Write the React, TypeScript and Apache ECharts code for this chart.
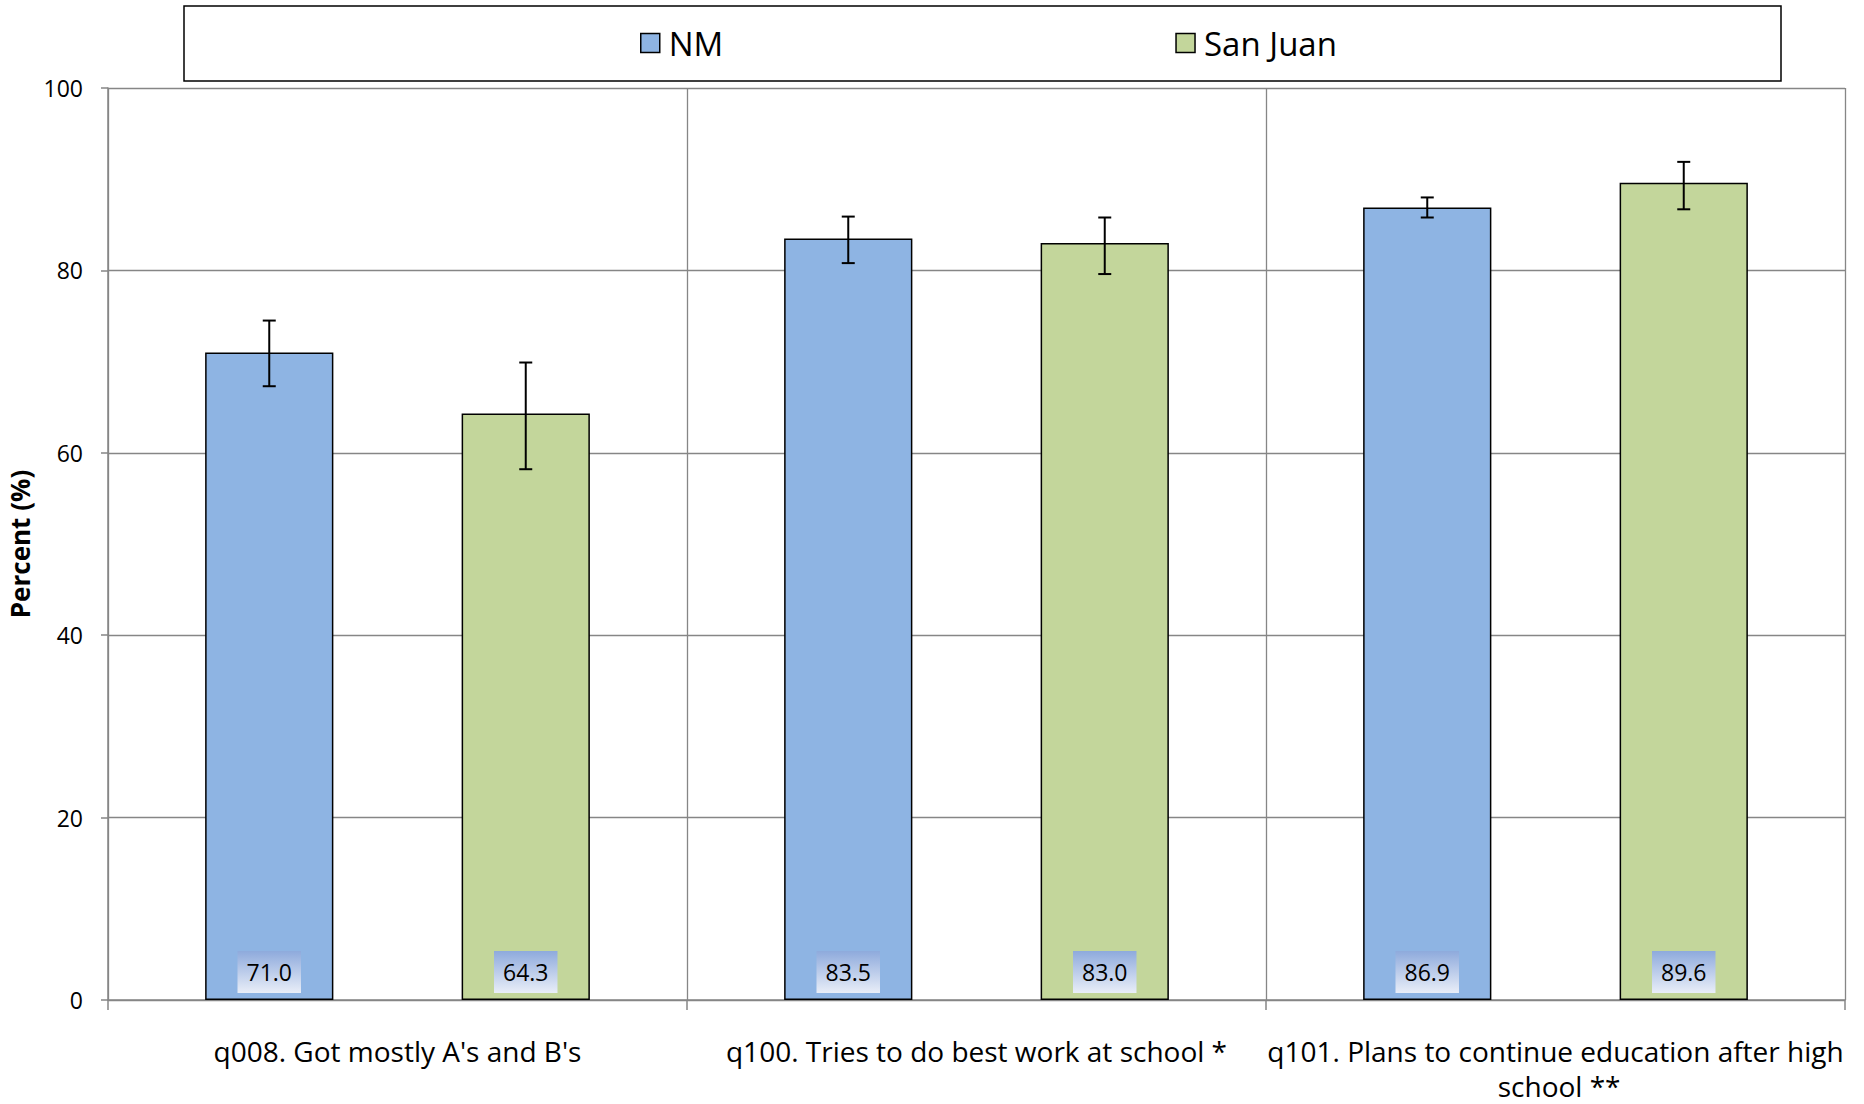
import { useEffect, useRef } from "react";
import * as echarts from "echarts";

const categories = [
  "q008. Got mostly A's and B's",
  "q100. Tries to do best work at school *",
  "q101. Plans to continue education after high school **",
];
const seriesNames = ["NM", "San Juan"];
const nmValues = [71.0, 83.5, 86.9];
const sjValues = [64.3, 83.0, 89.6];
const nmLow = [67.3, 80.8, 85.8];
const nmHigh = [74.5, 85.9, 88.0];
const sjLow = [58.2, 79.6, 86.7];
const sjHigh = [69.9, 85.8, 91.9];
const yMin = 0;
const yMax = 100;
const yStep = 20;

const BAR_FRAC = 0.2215;
const GRAY = "#868686";
const FONT = "Open Sans";

function makeErr(sign: number) {
  return (_params: any, api: any) => {
    const ci = api.value(0);
    const base = api.coord([ci, 0]);
    const band = api.size([1, 0])[0];
    const cx = base[0] + sign * band * BAR_FRAC;
    const yLo = api.coord([ci, api.value(1)])[1];
    const yHi = api.coord([ci, api.value(2)])[1];
    const half = 6.5;
    const style = { stroke: "#000", lineWidth: 2 };
    return {
      type: "group",
      children: [
        { type: "line", shape: { x1: cx, y1: yLo, x2: cx, y2: yHi }, style },
        { type: "line", shape: { x1: cx - half, y1: yHi, x2: cx + half, y2: yHi }, style },
        { type: "line", shape: { x1: cx - half, y1: yLo, x2: cx + half, y2: yLo }, style },
      ],
    };
  };
}

export default function App() {
  const ref = useRef<HTMLDivElement>(null);
  useEffect(() => {
    if (!ref.current) return;
    const chart = echarts.init(ref.current, null, { renderer: "svg" });
    const labelBg = new echarts.graphic.LinearGradient(0, 0, 0, 1, [
      { offset: 0, color: "#8eaadc" },
      { offset: 1, color: "#e9eef8" },
    ]);
    const barLabel = {
      show: true,
      position: "insideBottom",
      distance: 7,
      formatter: (p: any) => Number(p.value).toFixed(1),
      fontFamily: FONT,
      fontSize: 23,
      lineHeight: 24,
      color: "#000",
      backgroundColor: labelBg,
      padding: [9, 9],
    };
    const axisLineStyle = { color: GRAY, width: 1.5 };
    chart.setOption({
      animation: false,
      backgroundColor: "#fff",
      graphic: [
        {
          type: "rect",
          shape: { x: 184, y: 6, width: 1597, height: 75 },
          style: { fill: "#fff", stroke: "#000", lineWidth: 1.5 },
          z: -1,
        },
      ],
      legend: {
        data: seriesNames,
        left: 640,
        top: 23,
        padding: 0,
        icon: "rect",
        itemWidth: 19,
        itemHeight: 19,
        itemGap: 452,
        itemStyle: { borderColor: "#000", borderWidth: 1.5 },
        textStyle: {
          fontFamily: FONT,
          fontSize: 33,
          lineHeight: 40,
          color: "#000",
          padding: [0, 0, 0, 4],
        },
      },
      grid: {
        left: 108,
        right: 19,
        top: 88,
        bottom: 104,
        containLabel: false,
        outerBoundsMode: "none",
      },
      xAxis: {
        type: "category",
        data: categories,
        axisLine: { lineStyle: axisLineStyle },
        axisTick: { show: true, length: 10, lineStyle: axisLineStyle },
        splitLine: { show: true, lineStyle: { color: GRAY, width: 1.3 } },
        axisLabel: {
          color: "#000",
          fontFamily: FONT,
          fontSize: 28,
          lineHeight: 35,
          margin: 33,
          width: 578,
          overflow: "break",
          interval: 0,
        },
      },
      yAxis: {
        type: "value",
        min: yMin,
        max: yMax,
        interval: yStep,
        name: "Percent (%)",
        nameLocation: "middle",
        nameGap: 69,
        nameRotate: 90,
        nameTextStyle: { fontFamily: FONT, fontWeight: "bold", fontSize: 26, color: "#000" },
        axisLine: { show: true, lineStyle: axisLineStyle },
        axisTick: { show: true, length: 7, lineStyle: axisLineStyle },
        splitLine: { show: true, lineStyle: { color: GRAY, width: 1.3 } },
        axisLabel: { color: "#000", fontFamily: FONT, fontSize: 23, margin: 25 },
      },
      series: [
        {
          name: seriesNames[0],
          type: "bar",
          data: nmValues,
          barWidth: "22.15%",
          barGap: "100%",
          itemStyle: { color: "#8EB4E3", borderColor: "#000", borderWidth: 1.5 },
          label: barLabel,
        },
        {
          name: seriesNames[1],
          type: "bar",
          data: sjValues,
          barWidth: "22.15%",
          barGap: "100%",
          itemStyle: { color: "#C3D69B", borderColor: "#000", borderWidth: 1.5 },
          label: barLabel,
        },
        {
          name: "NM error",
          type: "custom",
          renderItem: makeErr(-1),
          encode: { x: 0, y: [1, 2] },
          data: nmLow.map((lo, i) => [i, lo, nmHigh[i]]),
          z: 10,
        },
        {
          name: "San Juan error",
          type: "custom",
          renderItem: makeErr(1),
          encode: { x: 0, y: [1, 2] },
          data: sjLow.map((lo, i) => [i, lo, sjHigh[i]]),
          z: 10,
        },
      ],
    });
    return () => chart.dispose();
  }, []);
  return (
    <div
      ref={ref}
      style={{ position: "fixed", left: 0, top: 0, width: 1864, height: 1104 }}
    />
  );
}
